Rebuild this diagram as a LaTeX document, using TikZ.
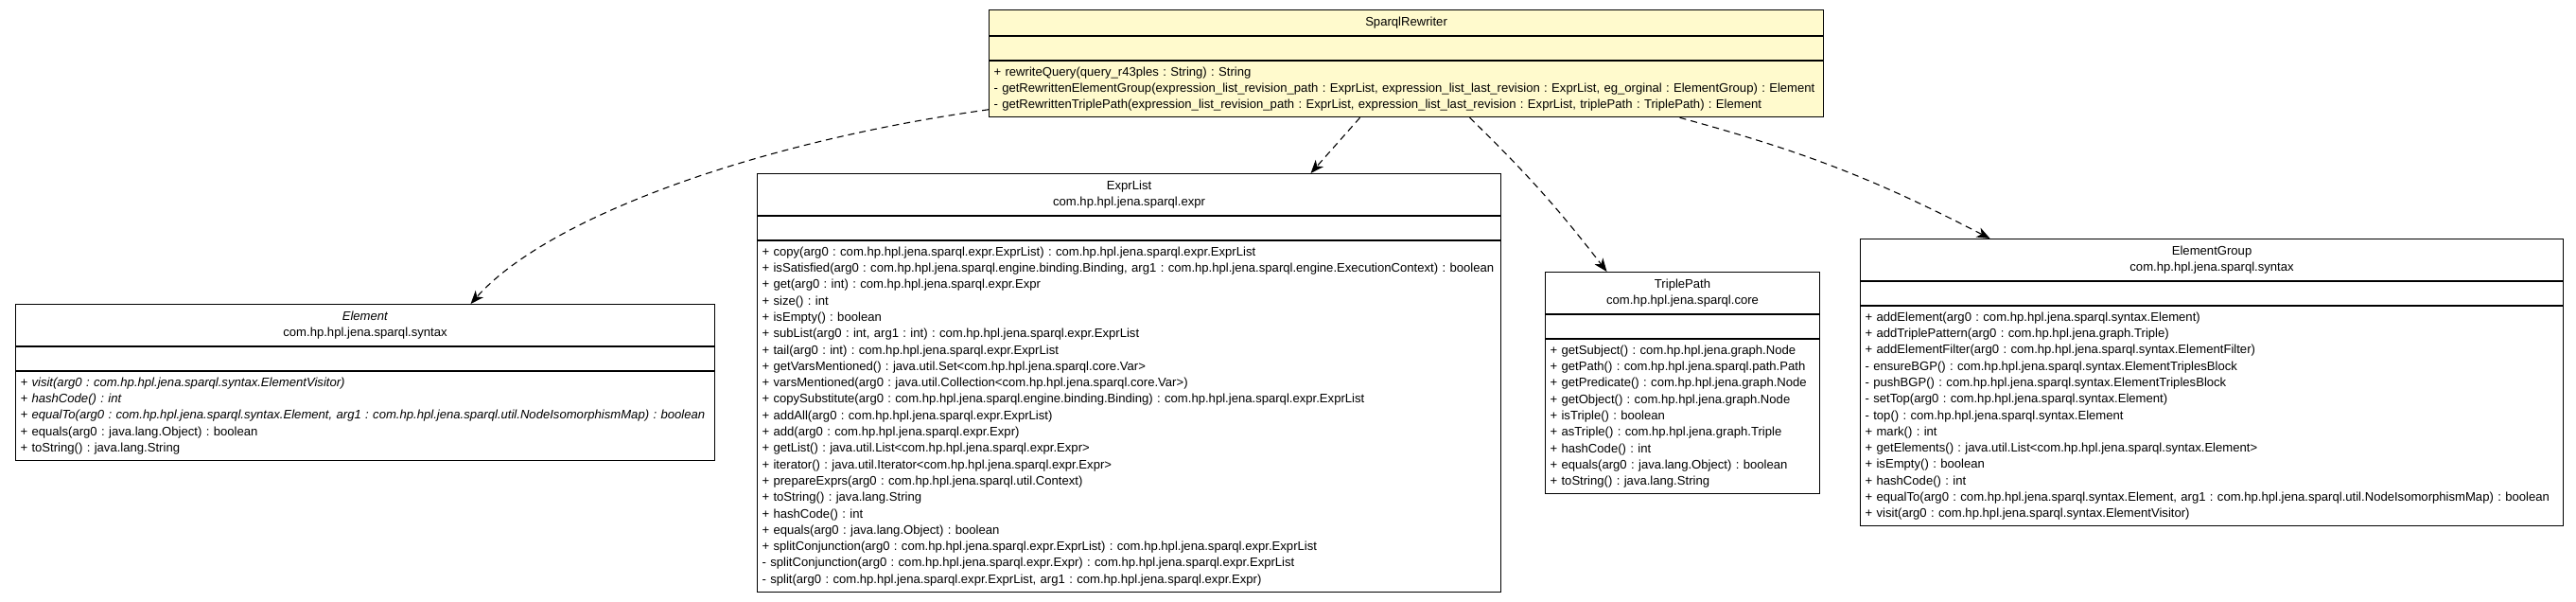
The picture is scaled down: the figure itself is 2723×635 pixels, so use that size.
\documentclass[tikz,border=0pt]{standalone}
\usepackage{fontspec}
\setmainfont{Liberation Sans}
\usetikzlibrary{positioning,arrows.meta}
\definecolor{lemon}{HTML}{FFFACD}
\frenchspacing

\begin{document}
\begin{tikzpicture}[x=1pt, y=-1pt, font=\fontsize{13.1}{17.3}\selectfont,
    classname/.style={draw, fill=white, line width=1.1pt, anchor=north west, align=center, inner sep=0pt, minimum height=44pt},
    classattr/.style={draw, fill=white, line width=1.1pt, inner sep=0pt, minimum height=25pt},
    classops/.style={draw, fill=white, line width=1.1pt, align=left, inner xsep=5pt, inner ysep=0pt},
    depends/.style={line width=1.1pt, dash pattern=on 7pt off 5pt, -{Stealth[length=14pt, width=11pt, inset=4pt]}}]
  \useasboundingbox (0,0) rectangle (2723,635);

  % SparqlRewriter
  \node[classname, fill=lemon, minimum width=882pt, minimum height=27pt] at (1045,10) (srName) {SparqlRewriter};
  \node[classattr, fill=lemon, minimum width=882pt, below=0pt of srName] (srAttr) {};
  \node[classops, fill=lemon, text width=872pt, minimum height=59pt, below=0pt of srAttr] (srOps) {%
    + rewriteQuery(query\_r43ples : String) : String\\
    - getRewrittenElementGroup(expression\_list\_revision\_path : ExprList, expression\_list\_last\_revision : ExprList, eg\_orginal : ElementGroup) : Element\\
    - getRewrittenTriplePath(expression\_list\_revision\_path : ExprList, expression\_list\_last\_revision : ExprList, triplePath : TriplePath) : Element};

  % Element
  \node[classname, minimum width=739pt] at (16,321) (elName) {\textit{Element}\\com.hp.hpl.jena.sparql.syntax};
  \node[classattr, minimum width=739pt, below=0pt of elName] (elAttr) {};
  \node[classops, text width=729pt, minimum height=93.5pt, below=0pt of elAttr] (elOps) {%
    \textit{+ visit(arg0 : com.hp.hpl.jena.sparql.syntax.ElementVisitor)}\\
    \textit{+ hashCode() : int}\\
    \textit{+ equalTo(arg0 : com.hp.hpl.jena.sparql.syntax.Element, arg1 : com.hp.hpl.jena.sparql.util.NodeIsomorphismMap) : boolean}\\
    + equals(arg0 : java.lang.Object) : boolean\\
    + toString() : java.lang.String};

  % ExprList
  \node[classname, minimum width=786pt] at (800,183) (exName) {ExprList\\com.hp.hpl.jena.sparql.expr};
  \node[classattr, minimum width=786pt, below=0pt of exName] (exAttr) {};
  \node[classops, text width=776pt, minimum height=370.3pt, below=0pt of exAttr] (exOps) {%
    + copy(arg0 : com.hp.hpl.jena.sparql.expr.ExprList) : com.hp.hpl.jena.sparql.expr.ExprList\\
    + isSatisfied(arg0 : com.hp.hpl.jena.sparql.engine.binding.Binding, arg1 : com.hp.hpl.jena.sparql.engine.ExecutionContext) : boolean\\
    + get(arg0 : int) : com.hp.hpl.jena.sparql.expr.Expr\\
    + size() : int\\
    + isEmpty() : boolean\\
    + subList(arg0 : int, arg1 : int) : com.hp.hpl.jena.sparql.expr.ExprList\\
    + tail(arg0 : int) : com.hp.hpl.jena.sparql.expr.ExprList\\
    + getVarsMentioned() : java.util.Set<com.hp.hpl.jena.sparql.core.Var>\\
    + varsMentioned(arg0 : java.util.Collection<com.hp.hpl.jena.sparql.core.Var>)\\
    + copySubstitute(arg0 : com.hp.hpl.jena.sparql.engine.binding.Binding) : com.hp.hpl.jena.sparql.expr.ExprList\\
    + addAll(arg0 : com.hp.hpl.jena.sparql.expr.ExprList)\\
    + add(arg0 : com.hp.hpl.jena.sparql.expr.Expr)\\
    + getList() : java.util.List<com.hp.hpl.jena.sparql.expr.Expr>\\
    + iterator() : java.util.Iterator<com.hp.hpl.jena.sparql.expr.Expr>\\
    + prepareExprs(arg0 : com.hp.hpl.jena.sparql.util.Context)\\
    + toString() : java.lang.String\\
    + hashCode() : int\\
    + equals(arg0 : java.lang.Object) : boolean\\
    + splitConjunction(arg0 : com.hp.hpl.jena.sparql.expr.ExprList) : com.hp.hpl.jena.sparql.expr.ExprList\\
    - splitConjunction(arg0 : com.hp.hpl.jena.sparql.expr.Expr) : com.hp.hpl.jena.sparql.expr.ExprList\\
    - split(arg0 : com.hp.hpl.jena.sparql.expr.ExprList, arg1 : com.hp.hpl.jena.sparql.expr.Expr)};

  % TriplePath
  \node[classname, minimum width=290pt] at (1633,287) (tpName) {TriplePath\\com.hp.hpl.jena.sparql.core};
  \node[classattr, minimum width=290pt, below=0pt of tpName] (tpAttr) {};
  \node[classops, text width=280pt, minimum height=162.7pt, below=0pt of tpAttr] (tpOps) {%
    + getSubject() : com.hp.hpl.jena.graph.Node\\
    + getPath() : com.hp.hpl.jena.sparql.path.Path\\
    + getPredicate() : com.hp.hpl.jena.graph.Node\\
    + getObject() : com.hp.hpl.jena.graph.Node\\
    + isTriple() : boolean\\
    + asTriple() : com.hp.hpl.jena.graph.Triple\\
    + hashCode() : int\\
    + equals(arg0 : java.lang.Object) : boolean\\
    + toString() : java.lang.String};

  % ElementGroup
  \node[classname, minimum width=743pt] at (1966,252) (egName) {ElementGroup\\com.hp.hpl.jena.sparql.syntax};
  \node[classattr, minimum width=743pt, below=0pt of egName] (egAttr) {};
  \node[classops, text width=733pt, minimum height=231.9pt, below=0pt of egAttr] (egOps) {%
    + addElement(arg0 : com.hp.hpl.jena.sparql.syntax.Element)\\
    + addTriplePattern(arg0 : com.hp.hpl.jena.graph.Triple)\\
    + addElementFilter(arg0 : com.hp.hpl.jena.sparql.syntax.ElementFilter)\\
    - ensureBGP() : com.hp.hpl.jena.sparql.syntax.ElementTriplesBlock\\
    - pushBGP() : com.hp.hpl.jena.sparql.syntax.ElementTriplesBlock\\
    - setTop(arg0 : com.hp.hpl.jena.sparql.syntax.Element)\\
    - top() : com.hp.hpl.jena.sparql.syntax.Element\\
    + mark() : int\\
    + getElements() : java.util.List<com.hp.hpl.jena.sparql.syntax.Element>\\
    + isEmpty() : boolean\\
    + hashCode() : int\\
    + equalTo(arg0 : com.hp.hpl.jena.sparql.syntax.Element, arg1 : com.hp.hpl.jena.sparql.util.NodeIsomorphismMap) : boolean\\
    + visit(arg0 : com.hp.hpl.jena.sparql.syntax.ElementVisitor)};

  % dependencies
  \draw[depends] ([yshift=-21.5pt]srOps.west) .. controls +(-250,35) and +(80,-90) .. ([xshift=111.5pt]elName.north);
  \draw[depends] ([xshift=-49pt]srOps.south) -- ([xshift=192pt]exName.north);
  \draw[depends] ([xshift=67pt]srOps.south) to[bend left=4] ([xshift=-80pt]tpName.north);
  \draw[depends] ([xshift=289pt]srOps.south) to[bend left=6] ([xshift=-234.5pt]egName.north);
\end{tikzpicture}
\end{document}
